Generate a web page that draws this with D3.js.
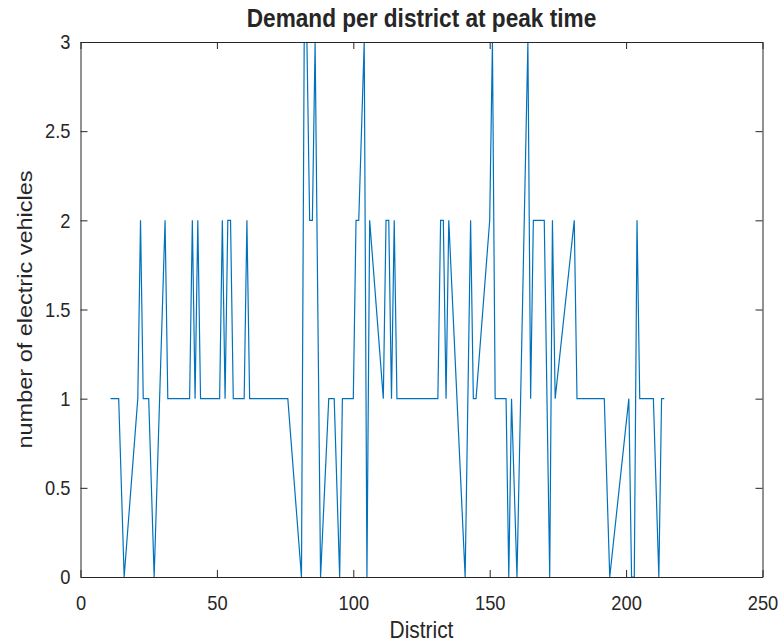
<!DOCTYPE html>
<html>
<head>
<meta charset="utf-8">
<script src="https://cdn.jsdelivr.net/npm/d3@7"></script>
<style>
body { margin: 0; background: #fff; }
text { font-family: "Liberation Sans", Arial, Helvetica, sans-serif; fill: #262626; }
</style>
</head>
<body>
<svg id="chart" width="780" height="643"></svg>
<script>
// district ids and EV demand at peak
const districts = [11, 14, 16, 21, 22, 23, 25, 27, 29, 31,
    32, 40, 41, 42, 43, 44, 51, 52, 53, 54,
    55, 56, 60, 61, 62, 76, 81, 82, 83, 84,
    85, 86, 88, 91, 93, 95, 96, 100, 101, 102,
    104, 105, 106, 111, 112, 113, 114, 115, 116, 131,
    132, 133, 134, 135, 141, 143, 144, 145, 150, 151,
    152, 156, 157, 158, 160, 164, 165, 166, 170, 172,
    173, 174, 181, 182, 192, 194, 201, 202, 203, 204,
    205, 210, 212, 213, 214]
const demand = [1, 1, 0, 1, 2, 1, 1, 0, 1, 2,
    1, 1, 2, 1, 2, 1, 1, 2, 1, 2,
    2, 1, 1, 2, 1, 1, 0, 3, 3, 2,
    2, 3, 0, 1, 1, 0, 1, 1, 2, 2,
    3, 0, 2, 1, 2, 2, 1, 2, 1, 1,
    2, 2, 1, 2, 0, 2, 1, 1, 2, 3,
    1, 1, 0, 1, 0, 3, 1, 2, 2, 0,
    2, 1, 2, 1, 1, 0, 1, 0, 0, 2,
    1, 1, 0, 1, 1]
const xTicks = [0, 50, 100, 150, 200, 250]
const yTicks = [0, 0.5, 1, 1.5, 2, 2.5, 3]

const width = 780
const height = 643
const margin = { top: 42, left: 80.5, right: 17.5, bottom: 66 }
const innerWidth = width - margin.left - margin.right
const innerHeight = height - margin.top - margin.bottom
const axisColor = "#262626"
const squeeze = 0.87   // the matlab export looks a bit narrow

var svg = d3.select("#chart")

const xScale = d3.scaleLinear().domain([0, 250]).range([0, innerWidth])
const yScale = d3.scaleLinear().domain([0, 3]).range([innerHeight, 0])

const g = svg.append("g").attr("id", "maingroup")
    .attr("transform", `translate(${margin.left},${margin.top})`)

// clip so the peaks stop at the box like in matlab
svg.append("defs").append("clipPath").attr("id", "plotclip")
    .append("rect").attr("width", innerWidth).attr("height", innerHeight)

var pts = districts.map((d, i) => [d, demand[i]])
const line = d3.line()
    .x(d => xScale(d[0]))
    .y(d => yScale(d[1]))

g.append("path")
    .datum(pts)
    .attr("clip-path", "url(#plotclip)")
    .attr("fill", "none")
    .attr("stroke", "#0072BD")
    .attr("stroke-width", 1.2)
    .attr("d", line)

// axes, ticks pointing inward on all four sides
const xAxis = d3.axisBottom(xScale).tickValues(xTicks).tickSizeInner(-7).tickSizeOuter(0).tickPadding(18)
const yAxis = d3.axisLeft(yScale).tickValues(yTicks).tickSizeInner(-7).tickSizeOuter(0).tickPadding(10)
    .tickFormat(d => d)
g.append("g").attr("class", "axis").attr("transform", `translate(0,${innerHeight})`).call(xAxis)
g.append("g").attr("class", "axis").call(yAxis)
g.append("g").attr("class", "axis mirror")
    .call(d3.axisTop(xScale).tickValues(xTicks).tickSizeInner(-7).tickSizeOuter(0))
g.append("g").attr("class", "axis mirror").attr("transform", `translate(${innerWidth},0)`)
    .call(d3.axisRight(yScale).tickValues(yTicks).tickSizeInner(-7).tickSizeOuter(0))
g.selectAll(".mirror text").remove()

g.selectAll(".axis path").attr("stroke", axisColor).attr("stroke-width", 1)
g.selectAll(".axis line").attr("stroke", axisColor).attr("stroke-width", 1)
g.selectAll(".axis text").attr("fill", axisColor).style("font-size", "21px")
    .attr("font-family", null)

function narrow(sel) {
    sel.each(function () {
        var w = this.getComputedTextLength()
        d3.select(this).attr("textLength", w * squeeze).attr("lengthAdjust", "spacingAndGlyphs")
    })
}
narrow(g.selectAll(".axis text"))

svg.append("text")
    .attr("x", margin.left + innerWidth / 2)
    .attr("y", 638)
    .attr("text-anchor", "middle")
    .style("font-size", "24px")
    .text("District")
    .call(narrow)

// ylabel: rotate, then squash the glyph height which now runs sideways
svg.append("text")
    .attr("transform", `translate(32,${margin.top + innerHeight / 2}) rotate(-90) scale(1,${squeeze})`)
    .attr("text-anchor", "middle")
    .style("font-size", "23.5px")
    .text("number of electric vehicles")

svg.append("text")
    .attr("x", margin.left + innerWidth / 2)
    .attr("y", 27)
    .attr("text-anchor", "middle")
    .style("font-size", "26px")
    .style("font-weight", "bold")
    .text("Demand per district at peak time")
    .call(narrow)
</script>
</body>
</html>
